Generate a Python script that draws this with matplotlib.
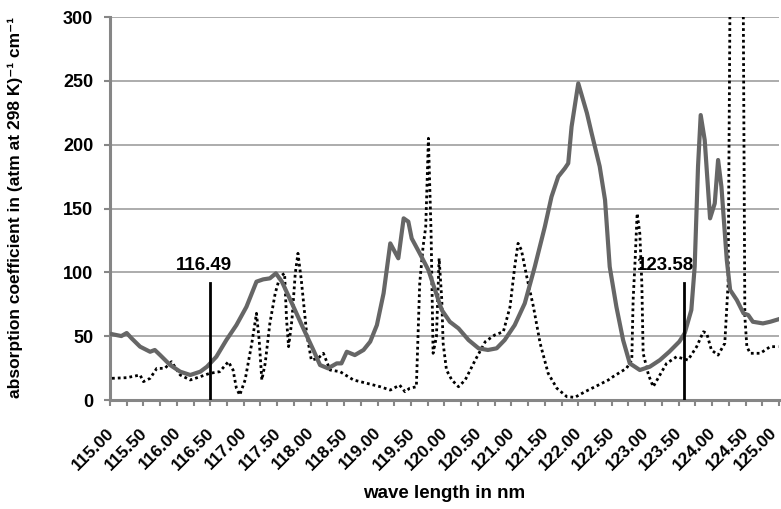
import matplotlib
matplotlib.use("Agg")
import matplotlib.pyplot as plt
import matplotlib.transforms as mtransforms
import numpy as np
from matplotlib.ticker import MultipleLocator

plt.rcParams['font.family'] = ['Liberation Sans', 'DejaVu Sans']
plt.rcParams['font.weight'] = 'bold'

# Solid grey series (wavelength nm, absorption coefficient)
solid_x = [115.03, 115.17, 115.25, 115.32, 115.45, 115.60, 115.67, 115.75, 115.90, 116.05,
           116.20, 116.35, 116.45, 116.59, 116.74, 116.89, 117.04, 117.19, 117.29, 117.39,
           117.48, 117.57, 117.72, 117.89, 118.04, 118.14, 118.26, 118.39, 118.46, 118.54,
           118.66, 118.79, 118.89, 118.99, 119.09, 119.19, 119.31, 119.39, 119.46, 119.51,
           119.63, 119.76, 119.86, 119.96, 120.08, 120.21, 120.36, 120.51, 120.65, 120.78,
           120.90, 121.05, 121.20, 121.35, 121.50, 121.60, 121.70, 121.80, 121.85, 121.90,
           122.00, 122.13, 122.20, 122.32, 122.40, 122.47, 122.57, 122.67, 122.77, 122.92,
           123.07, 123.22, 123.36, 123.51, 123.59, 123.69, 123.74, 123.79, 123.83, 123.89,
           123.97, 124.04, 124.09, 124.14, 124.22, 124.27, 124.37, 124.47, 124.54, 124.61,
           124.76, 124.87, 124.99]
solid_y = [51.6, 50.1, 52.5, 48.5, 41.8, 37.8, 39.2, 35.2, 27.4, 22.2,
           19.6, 22.2, 26.1, 33.9, 47.0, 58.7, 73.0, 92.7, 94.5, 95.3,
           99.2, 92.7, 75.7, 56.1, 39.2, 27.4, 24.8, 28.7, 28.7, 37.8,
           35.2, 39.2, 45.7, 58.7, 83.6, 122.7, 111.0, 142.3, 139.7, 126.6,
           114.9, 101.8, 86.0, 70.5, 61.3, 56.1, 47.0, 40.5, 39.2, 40.5,
           47.0, 58.7, 75.7, 104.4, 135.7, 159.2, 174.9, 181.5, 185.4, 214.1,
           248.0, 224.6, 208.9, 183.0, 156.7, 104.4, 73.0, 47.0, 28.7, 23.5,
           26.1, 31.3, 37.8, 45.7, 52.2, 70.5, 104.4, 182.8, 223.2, 203.6,
           142.3, 154.0, 188.0, 167.0, 109.7, 86.2, 78.3, 67.9, 66.6, 61.3,
           60.0, 61.3, 63.2]

# Dotted black series
dot_x = [115.03, 115.25, 115.45, 115.50, 115.60, 115.70, 115.82, 115.92, 116.05, 116.20,
         116.35, 116.49, 116.64, 116.77, 116.84, 116.89, 116.94, 117.02, 117.12, 117.19,
         117.23, 117.27, 117.32, 117.39, 117.47, 117.54, 117.61, 117.64, 117.67, 117.72,
         117.77, 117.81, 117.86, 117.94, 118.01, 118.11, 118.19, 118.29, 118.44, 118.64,
         118.84, 119.04, 119.19, 119.33, 119.41, 119.48, 119.58, 119.63, 119.68, 119.72,
         119.76, 119.80, 119.83, 119.88, 119.92, 119.96, 119.98, 120.03, 120.11, 120.21,
         120.31, 120.46, 120.61, 120.75, 120.88, 120.98, 121.05, 121.10, 121.15, 121.23,
         121.33, 121.43, 121.55, 121.68, 121.83, 121.95, 122.10, 122.30, 122.45, 122.52,
         122.72, 122.80, 122.82, 122.85, 122.88, 122.92, 122.95, 122.97, 123.05, 123.12,
         123.22, 123.32, 123.47, 123.64, 123.77, 123.87, 123.92, 123.99, 124.09, 124.19,
         124.24, 124.38, 124.49, 124.52, 124.57, 124.72, 124.87, 124.99]
dot_y = [17.0, 17.5, 19.6, 14.4, 17.0, 24.8, 24.8, 30.0, 19.6, 15.7,
         18.3, 20.9, 22.2, 30.0, 23.5, 9.2, 3.9, 15.7, 44.4, 67.9,
         47.0, 15.7, 28.7, 60.0, 83.6, 96.6, 99.2, 62.7, 41.8, 62.7,
         99.2, 114.9, 94.0, 52.2, 31.3, 32.6, 36.6, 23.5, 22.2, 15.7,
         13.1, 10.4, 7.8, 11.7, 6.5, 9.2, 10.4, 91.4, 120.0, 135.7,
         205.0, 130.5, 36.6, 49.6, 111.0, 78.3, 44.4, 23.5, 15.7, 10.4,
         15.7, 31.3, 45.7, 50.9, 53.5, 73.0, 104.4, 122.7, 117.5, 96.6,
         73.0, 44.4, 20.9, 9.2, 2.6, 2.1, 6.5, 11.7, 15.7, 18.3,
         24.8, 31.3, 78.3, 109.7, 146.2, 130.5, 91.4, 36.6, 19.6, 10.4,
         19.6, 28.7, 33.9, 31.3, 41.8, 53.5, 52.2, 39.2, 35.2, 44.4,
         91.4, 1200.0, 65.3, 41.8, 36.6, 36.6, 41.8, 41.8]

marker_x = [116.49, 123.58]
marker_labels = ["116.49", "123.58"]
marker_label_x = [116.40, 123.31]
marker_height = 92
marker_label_y = 102

x_tick_values = np.arange(115, 125.01, 0.5)
x_tick_labels = [f"{v:.2f}" for v in x_tick_values]

fig = plt.figure(figsize=(7.81, 5.09), dpi=100)
ax = fig.add_axes([0.1408, 0.2141, 0.8566, 0.7525])

ax.set_xlim(115, 125)
ax.set_ylim(0, 300)

ax.yaxis.grid(True, color='#a6a6a6', linewidth=1.3)
ax.set_axisbelow(True)

ax.plot(dot_x, dot_y, color='black', linewidth=2.0, linestyle=(0, (1, 1.1)),
        zorder=3)
ax.plot(solid_x, solid_y, color='#666666', linewidth=3.0, zorder=4,
        solid_joinstyle='round')

for mx, lx, ml in zip(marker_x, marker_label_x, marker_labels):
    ax.plot([mx, mx], [0, marker_height], color='black', linewidth=2.0, zorder=5)
    ax.text(lx, marker_label_y, ml, ha='center', va='baseline', fontsize=13.5,
            fontweight='bold', zorder=6)

for s in ['top', 'right']:
    ax.spines[s].set_visible(False)
for s in ['left', 'bottom']:
    ax.spines[s].set_color('#868686')
    ax.spines[s].set_linewidth(2.2)

ax.yaxis.set_major_locator(MultipleLocator(50))
ax.xaxis.set_minor_locator(MultipleLocator(0.25))
ax.tick_params(axis='y', direction='out', length=4, width=1.5, color='#868686',
               labelsize=13, pad=8)
ax.tick_params(axis='x', which='both', direction='out', length=4, width=1.5,
               color='#868686', labelsize=12.5, pad=14)
ax.set_xticks(x_tick_values)
ax.set_xticklabels(x_tick_labels, rotation=45, ha='right', rotation_mode='anchor',
                   fontweight='bold')
labels = ax.get_xticklabels()
for i, lab in enumerate(labels):
    dx = -4 if i < len(labels) - 1 else -10
    shift = mtransforms.ScaledTranslation(dx / 100, 0, fig.dpi_scale_trans)
    lab.set_transform(lab.get_transform() + shift)
for lab in ax.get_yticklabels():
    lab.set_fontweight('bold')

fig.text(444.5 / 781, 1 - 493 / 509, "wave length in nm", ha='center', va='center',
         fontsize=13.5, fontweight='bold')
fig.text(15 / 781, 1 - 208 / 509,
         "absorption coefficient in (atm at 298 K)\u207b\u00b9 cm\u207b\u00b9",
         ha='center', va='center', rotation=90, fontsize=12.5, fontweight='bold')

fig.savefig("out.png", dpi=100)
